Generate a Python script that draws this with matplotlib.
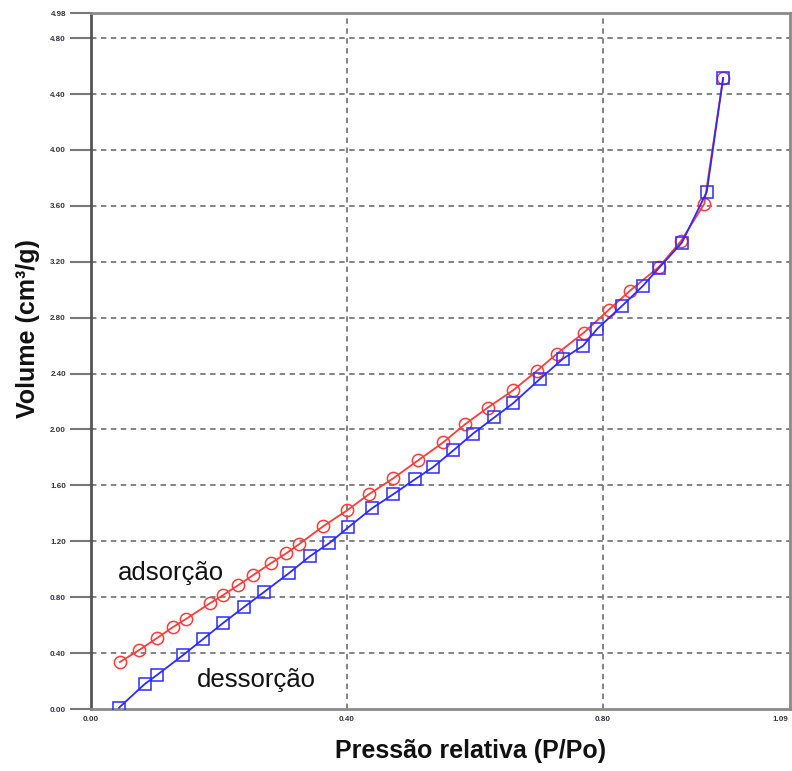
import matplotlib
matplotlib.use("Agg")
import matplotlib.pyplot as plt

# Adsorption branch (red circles)
ads_x = [0.045, 0.075, 0.103, 0.128, 0.148, 0.186, 0.206, 0.230, 0.253, 0.281,
         0.305, 0.325, 0.3625, 0.400, 0.434, 0.472, 0.511, 0.550, 0.584, 0.620,
         0.659, 0.697, 0.728, 0.770, 0.809, 0.842, 0.8875, 0.922, 0.958, 0.9875]
ads_y = [0.336, 0.421, 0.507, 0.586, 0.643, 0.757, 0.814, 0.886, 0.957, 1.043,
         1.114, 1.179, 1.307, 1.421, 1.536, 1.650, 1.779, 1.907, 2.036, 2.157,
         2.279, 2.421, 2.543, 2.693, 2.857, 2.993, 3.164, 3.350, 3.614, 4.514]

# Desorption branch (blue squares)
des_x = [0.044, 0.084, 0.103, 0.144, 0.175, 0.206, 0.239, 0.270, 0.309, 0.342,
         0.372, 0.402, 0.439, 0.472, 0.506, 0.534, 0.566, 0.597, 0.630, 0.659,
         0.702, 0.7375, 0.769, 0.791, 0.830, 0.8625, 0.8875, 0.923, 0.962, 0.9875]
des_y = [0.010, 0.179, 0.243, 0.386, 0.500, 0.614, 0.729, 0.836, 0.971, 1.093,
         1.186, 1.300, 1.436, 1.536, 1.643, 1.729, 1.850, 1.971, 2.086, 2.186,
         2.364, 2.507, 2.600, 2.721, 2.886, 3.029, 3.157, 3.336, 3.700, 4.514]

y_ticks = [0.00, 0.40, 0.80, 1.20, 1.60, 2.00, 2.40, 2.80, 3.20, 3.60, 4.00, 4.40, 4.80, 4.98]
y_tick_labels = ["0.00", "0.40", "0.80", "1.20", "1.60", "2.00", "2.40", "2.80",
                 "3.20", "3.60", "4.00", "4.40", "4.80", "4.98"]
x_ticks = [0.00, 0.40, 0.80, 1.09]
x_tick_labels = ["0.00", "0.40", "0.80", "1.09"]
grid_y = [0.40, 0.80, 1.20, 1.60, 2.00, 2.40, 2.80, 3.20, 3.60, 4.00, 4.40, 4.80]
grid_x = [0.40, 0.80]

plt.rcParams['font.family'] = ['Liberation Sans', 'DejaVu Sans']

fig = plt.figure(figsize=(7.92, 7.71), dpi=100)
ax = fig.add_axes([91/792, (771-709)/771, (790-91)/792, (709-13)/771])
ax.set_xlim(0, 1.092)
ax.set_ylim(0, 4.98)

for gy in grid_y:
    ax.axhline(gy, color='#7a7a7a', lw=1.3, ls=(0, (3, 2.5)), zorder=1)
for gx in grid_x:
    ax.axvline(gx, color='#7a7a7a', lw=1.3, ls=(0, (3, 2.5)), zorder=1)

ax.plot(ads_x, ads_y, color='#ff3b3b', lw=1.3, marker='o', ms=8.8,
        mfc='none', mec='#ff3b3b', mew=1.1, zorder=3)
ax.plot(des_x, des_y, color='#2b2bff', lw=1.3, marker='s', ms=8.8,
        mfc='none', mec='#2b2bff', mew=1.1, zorder=4)

ax.text(0.042, 0.97, "adsorção", fontsize=18.5, ha='left', va='center', color='#111111')
ax.text(0.166, 0.207, "dessorção", fontsize=18.5, ha='left', va='center', color='#111111')

ax.set_yticks(y_ticks)
ax.set_yticklabels(y_tick_labels)
ax.set_xticks(x_ticks)
ax.set_xticklabels(x_tick_labels)
ax.get_xticklabels()[-1].set_ha('right')

ax.tick_params(axis='y', direction='out', length=15, width=1.5, color='#777777',
               labelsize=5.8, labelcolor='#333344', pad=3)
ax.tick_params(axis='x', direction='out', length=0, labelsize=5.8,
               labelcolor='#333344', pad=5)
for lab in ax.get_xticklabels() + ax.get_yticklabels():
    lab.set_fontweight('bold')

for side in ['top', 'right', 'bottom']:
    ax.spines[side].set_color('#8a8a8a')
    ax.spines[side].set_linewidth(2)
ax.spines['left'].set_color('#555555')
ax.spines['left'].set_linewidth(2)

fig.text(471/792, 1 - 751/771, "Pressão relativa (P/Po)", fontsize=18,
         fontweight='bold', ha='center', va='center', color='#111111')
fig.text(28/792, 1 - 329/771, "Volume (cm³/g)", fontsize=18,
         fontweight='bold', ha='center', va='center', rotation=90, color='#111111')

fig.savefig("out.png", dpi=100)
